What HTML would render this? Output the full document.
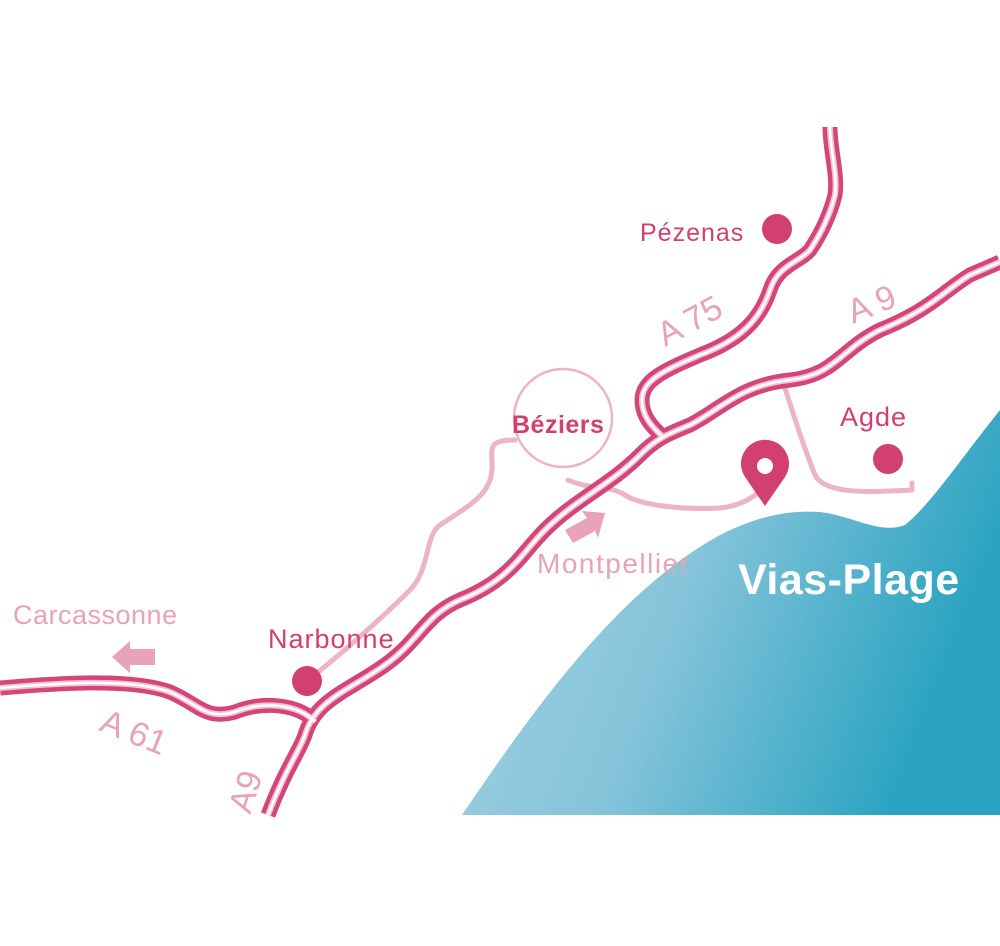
<!DOCTYPE html>
<html><head><style>html,body{margin:0;padding:0;background:#fff}svg{display:block}</style></head>
<body>
<svg width="1000" height="946" viewBox="0 0 1000 946" xmlns="http://www.w3.org/2000/svg" font-family="Liberation Sans, sans-serif">
<defs>
<linearGradient id="sea" x1="0" y1="0" x2="1" y2="0.3">
<stop offset="0" stop-color="#a4d3e3"/><stop offset="0.5" stop-color="#86c4da"/><stop offset="1" stop-color="#2ba4c1"/>
</linearGradient>
<path id="r1" d="M0,688 C60,683 130,678 170,692 C200,705 205,720 235,712 C265,700 300,705 315,722"/>
<path id="r2" d="M268,815 C285,770 300,750 305,735 C315,700 350,690 385,665 C420,640 425,615 460,600 C510,580 520,555 545,530 C575,500 610,485 640,455 C655,440 665,435 690,425 C720,410 740,385 790,380 C835,375 840,350 880,330 C930,310 945,290 970,275 L1000,262"/>
<path id="r3" d="M662,436 C650,425 642,415 642,400 C642,380 665,370 700,355 C740,340 760,320 770,290 C778,265 800,262 810,250 C820,235 830,215 835,195 C838,175 830,150 830,127"/>
</defs>
<path d="M462,815 C540,700 620,590 720,535 C760,515 790,510 820,512 C850,515 880,535 905,525 C930,505 960,460 1000,410 L1000,815 Z" fill="url(#sea)"/>
<g fill="none" stroke="#ecb4c5" stroke-width="5" stroke-linecap="round" stroke-linejoin="round">
<path d="M307,681 C340,655 380,620 410,590 C430,570 425,535 440,525 C470,505 490,495 492,470 C493,450 485,440 515,440"/>
<path d="M568,480 C590,490 610,485 625,495 C640,505 680,510 720,508 C745,505 755,495 762,490"/>
<path d="M785,388 C795,420 805,450 815,475 C825,495 870,492 912,490 L912,483"/>
</g>
<circle cx="563" cy="418" r="49" fill="#fff" stroke="#ecb4c5" stroke-width="2.5"/>
<g fill="none" stroke="#d4457a" stroke-width="15" stroke-linejoin="round">
<use href="#r1"/><use href="#r2"/><use href="#r3"/>
</g>
<g fill="none" stroke="#f3c3d2" stroke-width="6" stroke-linejoin="round">
<use href="#r1"/><use href="#r2"/><use href="#r3"/>
</g>
<g fill="none" stroke="#fff" stroke-width="2.5" stroke-linejoin="round">
<use href="#r1"/><use href="#r2"/><use href="#r3"/>
</g>
<circle cx="307" cy="681" r="15" fill="#d1406f"/>
<circle cx="777" cy="229" r="15" fill="#d1406f"/>
<circle cx="888" cy="459" r="15" fill="#d1406f"/>
<path d="M765,506 L745,477 A24,24 0 1 1 785,477 Z" fill="#d1406f"/>
<circle cx="765" cy="466" r="8" fill="#fff"/>
<path d="M112,657 L130,641 L130,649 L155,649 L155,665 L130,665 L130,673 Z" fill="#e8a3b7"/>
<path d="M605,513 L582,511 L587,518 L565,530 L573,543 L595,531 L598,538 Z" fill="#e8a3b7"/>
<g fill="#d1406f" font-size="26">
<text x="640" y="241" font-size="25" letter-spacing="1">Pézenas</text>
<text x="840" y="426" font-size="27" letter-spacing="1">Agde</text>
<text x="268" y="648" font-size="27" letter-spacing="1">Narbonne</text>
<text x="512" y="433" font-weight="bold" font-size="25" letter-spacing="0.5">Béziers</text>
</g>
<g fill="#e8a3b7" font-size="27">
<text x="13" y="624" letter-spacing="0.5">Carcassonne</text>
<text x="537" y="573" font-size="28" letter-spacing="1.5">Montpellier</text>
<text x="0" y="0" font-size="34" transform="translate(665,347) rotate(-28)">A 75</text>
<text x="0" y="0" font-size="34" transform="translate(853,324) rotate(-22)">A 9</text>
<text x="0" y="0" font-size="34" transform="translate(98,730) rotate(22)">A 61</text>
<text x="0" y="0" font-size="34" transform="translate(250,815) rotate(-72)">A9</text>
</g>
<text x="738" y="594" fill="#fff" font-size="43" font-weight="bold" letter-spacing="0.5">Vias-Plage</text>
</svg>
</body></html>
